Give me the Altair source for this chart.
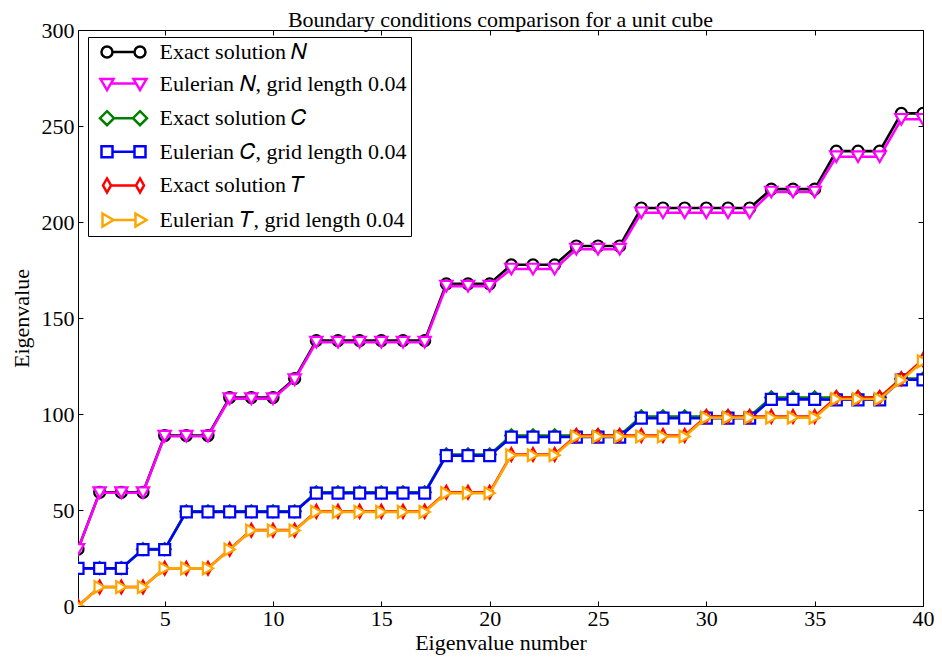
import altair as alt
import pandas as pd

# ---------------- data ----------------
idx = list(range(1, 41))

exact_N = [29.6, 59.2, 59.2, 59.2, 88.8, 88.8, 88.8, 108.6, 108.6, 108.6,
           118.4, 138.2, 138.2, 138.2, 138.2, 138.2, 138.2, 167.8, 167.8, 167.8,
           177.7, 177.7, 177.7, 187.5, 187.5, 187.5, 207.3, 207.3, 207.3, 207.3,
           207.3, 207.3, 217.1, 217.1, 217.1, 236.9, 236.9, 236.9, 256.6, 256.6]
euler_N = [29.5, 59.0, 59.0, 59.0, 88.4, 88.4, 88.4, 108.0, 108.0, 108.0,
           117.9, 137.4, 137.4, 137.4, 137.4, 137.4, 137.4, 166.6, 166.6, 166.6,
           175.5, 175.5, 175.5, 185.8, 185.8, 185.8, 204.8, 204.8, 204.8, 204.8,
           204.8, 204.8, 215.6, 215.6, 215.6, 234.0, 234.0, 234.0, 253.5, 253.5]
exact_C = [19.7, 19.7, 19.7, 29.6, 29.6, 49.3, 49.3, 49.3, 49.3, 49.3,
           49.3, 59.2, 59.2, 59.2, 59.2, 59.2, 59.2, 78.9, 78.9, 78.9,
           88.8, 88.8, 88.8, 88.8, 88.8, 88.8, 98.7, 98.7, 98.7, 98.7,
           98.7, 98.7, 108.6, 108.6, 108.6, 108.6, 108.6, 108.6, 118.4, 118.4]
euler_C = [19.6, 19.6, 19.6, 29.4, 29.4, 49.0, 49.0, 49.0, 49.0, 49.0,
           49.0, 58.8, 58.8, 58.8, 58.8, 58.8, 58.8, 78.3, 78.3, 78.3,
           88.0, 88.0, 88.0, 88.0, 88.0, 88.0, 97.8, 97.8, 97.8, 97.8,
           97.8, 97.8, 107.6, 107.6, 107.6, 107.4, 107.4, 107.4, 117.8, 117.8]
exact_T = [0.0, 9.87, 9.87, 9.87, 19.7, 19.7, 19.7, 29.6, 39.5, 39.5,
           39.5, 49.3, 49.3, 49.3, 49.3, 49.3, 49.3, 59.2, 59.2, 59.2,
           78.9, 78.9, 78.9, 88.8, 88.8, 88.8, 88.8, 88.8, 88.8, 98.7,
           98.7, 98.7, 98.7, 98.7, 98.7, 108.6, 108.6, 108.6, 118.4, 128.3]
euler_T = [0.0, 9.85, 9.85, 9.85, 19.6, 19.6, 19.6, 29.4, 39.3, 39.3,
           39.3, 49.0, 49.0, 49.0, 49.0, 49.0, 49.0, 58.8, 58.8, 58.8,
           78.5, 78.5, 78.5, 88.3, 88.3, 88.3, 88.3, 88.3, 88.3, 98.1,
           98.1, 98.1, 98.1, 98.1, 98.1, 107.8, 107.8, 107.8, 117.6, 127.4]

names = ["Exact solution \U0001D441", "Eulerian \U0001D441, grid length 0.04",
         "Exact solution \U0001D436", "Eulerian \U0001D436, grid length 0.04",
         "Exact solution \U0001D447", "Eulerian \U0001D447, grid length 0.04"]
series_values = [exact_N, euler_N, exact_C, euler_C, exact_T, euler_T]
colors = ["#000000", "#ff00ff", "#008000", "#0000ff", "#ff0000", "#ffa500"]

xticks = [5, 10, 15, 20, 25, 30, 35, 40]
yticks = [0, 50, 100, 150, 200, 250, 300]

rows = []
for name, vals in zip(names, series_values):
    for i, v in zip(idx, vals):
        rows.append({"idx": i, "value": v, "series": name})
df = pd.DataFrame(rows)

# ---------------- styles ----------------
FONT = "Liberation Serif"
W, H = 845, 576
thin_diamond = "M0,-1L0.55,0L0,1L-0.55,0Z"
shapes = ["circle", "triangle-down", "diamond", "square", thin_diamond, "triangle-right"]
sizes = [121, 150, 150, 121, 169, 140]

# legend symbol: short line with a marker at each end (custom path, units of S px)
S = 6.0
SHIFT = 3.0
def u(v):
    return f"{(v + SHIFT) / S:.3f}"

def uy(v):
    return f"{v / S:.3f}"

def seg(x1, x2):
    return f"M{u(x1)},0L{u(x2)},0"

def marker_path(kind, cx):
    if kind == "circle":
        r = 5.5
        return (f"M{u(cx - r)},0A{uy(r)},{uy(r)} 0 1,0 {u(cx + r)},0"
                f"A{uy(r)},{uy(r)} 0 1,0 {u(cx - r)},0Z"), r, r
    if kind == "tdown":
        return (f"M{u(cx - 6.5)},{uy(-4.5)}L{u(cx + 6.5)},{uy(-4.5)}L{u(cx)},{uy(6.5)}Z"), 4.0, 4.0
    if kind == "diamond":
        return (f"M{u(cx)},{uy(-7)}L{u(cx + 7)},0L{u(cx)},{uy(7)}L{u(cx - 7)},0Z"), 7, 7
    if kind == "square":
        h = 5.5
        return (f"M{u(cx - h)},{uy(-h)}L{u(cx + h)},{uy(-h)}L{u(cx + h)},{uy(h)}L{u(cx - h)},{uy(h)}Z"), h, h
    if kind == "thin":
        return (f"M{u(cx)},{uy(-7)}L{u(cx + 4)},0L{u(cx)},{uy(7)}L{u(cx - 4)},0Z"), 4, 4
    if kind == "tright":
        return (f"M{u(cx - 4.5)},{uy(-6.5)}L{u(cx + 6.5)},0L{u(cx - 4.5)},{uy(6.5)}Z"), 4.5, 6.5

def legend_symbol(kind):
    a, la, ra = marker_path(kind, -16.5)
    b, lb, rb = marker_path(kind, 16.5)
    return seg(-16.5 + ra, 16.5 - lb) + a + b

legend_paths = [legend_symbol(k) for k in ["circle", "tdown", "diamond", "square", "thin", "tright"]]

xs = alt.Scale(domain=[1, 40], nice=False, zero=False)
ys = alt.Scale(domain=[0, 300], nice=False, zero=False)

base = alt.Chart(df)
layers = []
for i, name in enumerate(names):
    sub = base.transform_filter(alt.datum.series == name)
    enc = dict(x=alt.X("idx:Q", scale=xs, axis=None), y=alt.Y("value:Q", scale=ys, axis=None))
    layers.append(sub.mark_line(color=colors[i], strokeWidth=2.6, clip=True).encode(**enc))
    layers.append(sub.mark_point(shape=shapes[i], size=sizes[i], filled=True, fill="white",
                                 stroke=colors[i], strokeWidth=2.2, opacity=1, clip=True).encode(**enc))

empty = base.transform_filter("datum.idx < 0")

lab_kw = dict(labelFont=FONT, labelFontSize=22, labelColor="black",
              titleFont=FONT, titleFontSize=22, titleFontWeight="normal", titleColor="black")

# labelled axes (no ticks)
ax_main = empty.mark_point(opacity=0).encode(
    x=alt.X("idx:Q", scale=xs, axis=alt.Axis(values=xticks, title="Eigenvalue number", orient="bottom",
                                              ticks=False, domain=False, grid=False, labelFlush=False,
                                              labelPadding=2, titlePadding=3, **lab_kw)),
    y=alt.Y("value:Q", scale=ys, axis=alt.Axis(values=yticks, title="Eigenvalue", orient="left",
                                                ticks=False, domain=False, grid=False, labelFlush=False,
                                                labelPadding=4, titlePadding=8, **lab_kw)),
)
# inward ticks on all four sides
tick_kw = dict(labels=False, domain=False, grid=False, ticks=True, tickSize=5,
               tickColor="black", tickWidth=1, title=None)
ax_in1 = empty.mark_point(opacity=0).encode(
    x=alt.X("idx:Q", scale=xs, axis=alt.Axis(values=xticks, orient="top", offset=-H, **tick_kw)),
    y=alt.Y("value:Q", scale=ys, axis=alt.Axis(values=yticks, orient="right", offset=-W, **tick_kw)),
)
ax_in2 = empty.mark_point(opacity=0).encode(
    x=alt.X("idx:Q", scale=xs, axis=alt.Axis(values=xticks, orient="bottom", offset=-H, **tick_kw)),
    y=alt.Y("value:Q", scale=ys, axis=alt.Axis(values=yticks, orient="left", offset=-W, **tick_kw)),
)

leg = alt.Legend(title=None, orient="none", legendX=10, legendY=7, padding=4, rowPadding=9.6,
                 symbolOffset=17.5, labelOffset=28, symbolSize=144, symbolStrokeWidth=2.5,
                 symbolFillColor="white", strokeColor="black", fillColor="white",
                 labelFont=FONT, labelFontSize=22, labelLimit=500, labelColor="black",
                 cornerRadius=0)
legend_layer = empty.mark_point(filled=False, fill="white", opacity=1, strokeWidth=2.5).encode(
    x=alt.X("idx:Q", scale=xs, axis=None),
    y=alt.Y("value:Q", scale=ys, axis=None),
    color=alt.Color("series:N", scale=alt.Scale(domain=names, range=colors), legend=leg),
    shape=alt.Shape("series:N", scale=alt.Scale(domain=names, range=legend_paths), legend=leg),
)

# the whole svg must fit inside 942x668 minus the 8px page margins: 926 x 652
PAD_L, PAD_T = 70, 22
chart = alt.layer(*layers, ax_main, ax_in1, ax_in2, legend_layer).resolve_axis(
    x="independent", y="independent"
).properties(
    width=W, height=H,
    background="white",
    autosize=alt.AutoSizeParams(type="none"),
    padding={"left": PAD_L, "top": PAD_T, "right": 926 - PAD_L - W, "bottom": 652 - PAD_T - H},
    title=alt.TitleParams("Boundary conditions comparison for a unit cube", font=FONT, fontSize=22,
                          fontWeight="normal", color="black", anchor="middle",
                          baseline="alphabetic", offset=-29.5),
).configure_axis(
    labelFont=FONT, labelFontSize=22, labelColor="black",
    titleFont=FONT, titleFontSize=22, titleFontWeight="normal", titleColor="black",
).configure_view(stroke="black", strokeWidth=1)

chart.save("out.html", embed_options={"renderer": "svg", "actions": False})
